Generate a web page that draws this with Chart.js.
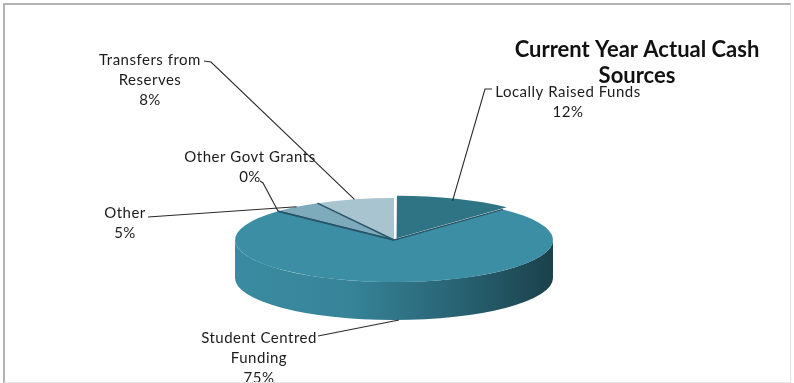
<!DOCTYPE html>
<html>
<head>
<meta charset="utf-8">
<title>Current Year Actual Cash Sources</title>
<script src="https://cdn.jsdelivr.net/npm/chart.js@4.4.1/dist/chart.umd.min.js"></script>
<style>
  html, body { margin: 0; padding: 0; background: #fff; }
  #wrap { position: relative; width: 794px; height: 383px; overflow: hidden; }
  #frame {
    position: absolute; left: 3px; top: 3px; width: 785px; height: 377px;
    border-left: 2px solid #b3b3b3; border-top: 2px solid #b3b3b3;
    border-right: 1px solid #e4e4e4; border-bottom: 1px solid #e4e4e4;
    pointer-events: none;
  }
</style>
</head>
<body>
<div id="wrap">
  <canvas id="cashPie" width="794" height="383"></canvas>
  <div id="frame"></div>
</div>
<script>
// cash sources, clockwise from 12 o'clock
const sourceNames = ['Locally Raised Funds', 'Student Centred Funding', 'Other Govt Grants', 'Other', 'Transfers from Reserves'];
const sourcePercents = [12, 75, 0, 5, 8];
const sliceColours = ['#2f7485', '#3b8ea4', '#5d98ab', '#7eabbc', '#a8c4cf'];
// line breaks used by each callout
const calloutLines = [['Locally Raised Funds'], ['Student Centred', 'Funding'], ['Other Govt Grants'], ['Other'], ['Transfers from', 'Reserves']];
const titleLines = ['Current Year Actual Cash', 'Sources'];

// tilt of the pie on screen
const PIE_CY = 240;
const PIE_RY = 42;
const PIE_DEPTH = 38;

const LABEL_FONT = '15px Lato';
const LINE_GAP = 20;
// x = centre of text, y = first baseline, from/elbow = where the leader leaves the text
const callouts = [
  { x: 568, y: 97,  from: [492, 89],  elbow: [485, 89] },
  { x: 259, y: 343, from: [318, 336], elbow: [318, 336] },
  { x: 250, y: 162, from: [260, 181], elbow: [263, 183] },
  { x: 125, y: 218, from: [148, 217], elbow: [148, 217] },
  { x: 150, y: 65,  from: [204, 61],  elbow: [211, 62] }
];

function shade(hex, f) {
  const n = parseInt(hex.slice(1), 16);
  const r = Math.round(((n >> 16) & 255) * f);
  const g = Math.round(((n >> 8) & 255) * f);
  const b = Math.round((n & 255) * f);
  return 'rgb(' + r + ',' + g + ',' + b + ')';
}

function pieGeom(chart) {
  const arc = chart.getDatasetMeta(0).data[0];
  return { cx: arc.x, cy: arc.y, r: arc.outerRadius, k: PIE_RY / arc.outerRadius };
}

// screen point on the rim of the top face
function rimPoint(p, a, drop) {
  return [p.cx + p.r * Math.cos(a), PIE_CY + p.r * p.k * Math.sin(a) + (drop || 0)];
}

const tiltPlugin = {
  id: 'tilt',
  beforeDatasetsDraw(chart) {
    const ctx = chart.ctx;
    const p = pieGeom(chart);
    ctx.save();
    ctx.translate(0, PIE_CY);
    ctx.scale(1, p.k);
    ctx.translate(0, -p.cy);

    // front rim, painted before the top faces
    const depth = PIE_DEPTH / p.k;
    chart.getDatasetMeta(0).data.forEach((a, i) => {
      if (a.circumference === 0) return;
      for (let t = -1; t <= 1; t++) {
        const lo = Math.max(a.startAngle, t * 2 * Math.PI);
        const hi = Math.min(a.endAngle, t * 2 * Math.PI + Math.PI);
        if (hi <= lo) continue;
        const g = ctx.createLinearGradient(p.cx - p.r, 0, p.cx + p.r, 0);
        g.addColorStop(0, shade(sliceColours[i], 0.98));
        g.addColorStop(0.35, shade(sliceColours[i], 0.93));
        g.addColorStop(0.7, shade(sliceColours[i], 0.7));
        g.addColorStop(1, shade(sliceColours[i], 0.46));
        ctx.beginPath();
        ctx.arc(p.cx, p.cy, p.r, lo, hi);
        ctx.arc(p.cx, p.cy + depth, p.r, hi, lo, true);
        ctx.closePath();
        ctx.fillStyle = g;
        ctx.fill();
      }
    });
  },
  afterDatasetsDraw(chart) {
    const ctx = chart.ctx;
    ctx.restore();
    const p = pieGeom(chart);
    const arcs = chart.getDatasetMeta(0).data;

    // dark seams between neighbouring slices
    ctx.save();
    ctx.strokeStyle = '#28566a';
    ctx.lineWidth = 1.5;
    for (let i = 1; i < arcs.length; i++) {
      const e = rimPoint(p, arcs[i].startAngle);
      ctx.beginPath();
      ctx.moveTo(p.cx, PIE_CY);
      ctx.lineTo(e[0], e[1]);
      ctx.stroke();
    }
    ctx.restore();
  },
  afterDraw(chart) {
    const ctx = chart.ctx;
    const p = pieGeom(chart);
    const arcs = chart.getDatasetMeta(0).data;
    ctx.save();

    // leader lines
    ctx.strokeStyle = '#2a2a2a';
    ctx.lineWidth = 1.1;
    arcs.forEach((a, i) => {
      const mid = (a.startAngle + a.endAngle) / 2;
      const drop = Math.sin(mid) > 0.3 ? PIE_DEPTH : 0;
      const end = rimPoint(p, mid, drop);
      const c = callouts[i];
      ctx.beginPath();
      ctx.moveTo(c.from[0], c.from[1]);
      ctx.lineTo(c.elbow[0], c.elbow[1]);
      ctx.lineTo(end[0], end[1]);
      ctx.stroke();
    });

    // callout text
    ctx.fillStyle = '#1c1c1c';
    ctx.font = LABEL_FONT;
    ctx.letterSpacing = '0.5px';
    ctx.textAlign = 'center';
    ctx.textBaseline = 'alphabetic';
    arcs.forEach((a, i) => {
      const c = callouts[i];
      const lines = calloutLines[i].concat([sourcePercents[i] + '%']);
      lines.forEach((s, j) => ctx.fillText(s, c.x, c.y + j * LINE_GAP));
    });

    // title
    ctx.font = 'bold 22px Lato';
    ctx.letterSpacing = '0px';
    ctx.fillStyle = '#111';
    titleLines.forEach((s, j) => ctx.fillText(s, 637, 57 + j * 26));
    ctx.restore();
  }
};

const cashPie = new Chart('cashPie', {
  type: 'pie',
  data: {
    labels: sourceNames,
    datasets: [{
      data: sourcePercents,
      backgroundColor: sliceColours,
      borderWidth: 0,
      offset: [28, 0, 0, 0, 0],
      clip: false
    }]
  },
  options: {
    responsive: false,
    animation: false,
    events: [],
    radius: 159,
    layout: { padding: { right: 6 } },
    plugins: {
      legend: { display: false },
      tooltip: { enabled: false },
      title: { display: false }
    }
  },
  plugins: [tiltPlugin]
});
</script>
</body>
</html>
